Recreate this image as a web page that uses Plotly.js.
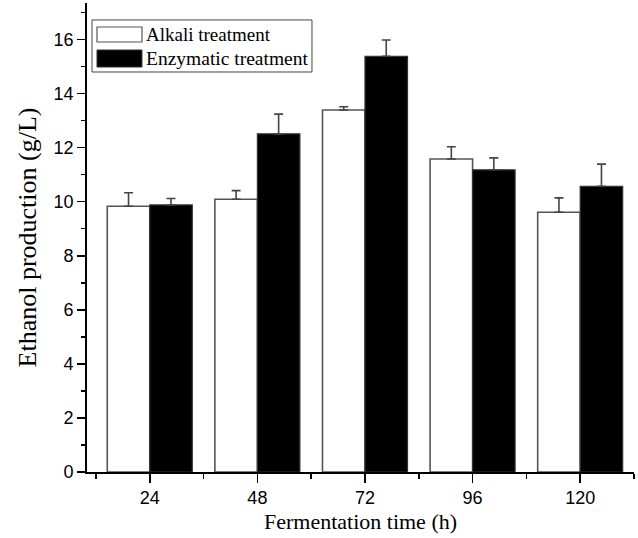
<!DOCTYPE html>
<html>
<head>
<meta charset="utf-8">
<script src="https://cdn.plot.ly/plotly-3.0.1.min.js"></script>
<style>html,body{margin:0;padding:0;background:#fff;}#chart{width:638px;height:538px;}</style>
</head>
<body>
<div id="chart"></div>
<script>
// Fermentation time (h)
var hours = [24, 48, 72, 96, 120];
var tickLabels = ['24', '48', '72', '96', '120'];
var seriesNames = ['Alkali treatment', 'Enzymatic treatment'];
// Ethanol production (g/L)
var alkaliValues = [9.83, 10.09, 13.39, 11.58, 9.61];
var alkaliErrors = [0.50, 0.32, 0.12, 0.45, 0.53];
var enzymaticValues = [9.88, 12.51, 15.38, 11.18, 10.57];
var enzymaticErrors = [0.24, 0.73, 0.60, 0.44, 0.82];
var zeros = [0, 0, 0, 0, 0];

var serif = 'Liberation Serif, Times New Roman, serif';
var sans = 'Liberation Sans, Arial, sans-serif';

var traces = [
  {
    type: 'bar', name: seriesNames[0], x: hours, y: alkaliValues,
    marker: {color: '#ffffff', line: {color: '#555555', width: 1.6}},
    error_y: {type: 'data', symmetric: false, array: alkaliErrors, arrayminus: zeros,
              color: '#444444', thickness: 1.6, width: 4.5},
    showlegend: false
  },
  {
    type: 'bar', name: seriesNames[1], x: hours, y: enzymaticValues,
    marker: {color: '#000000', line: {color: '#333333', width: 1.2}},
    error_y: {type: 'data', symmetric: false, array: enzymaticErrors, arrayminus: zeros,
              color: '#444444', thickness: 1.6, width: 4.5},
    showlegend: false
  }
];

var layout = {
  width: 638, height: 538,
  margin: {l: 87, r: 4, t: 3, b: 66},
  paper_bgcolor: '#ffffff', plot_bgcolor: '#ffffff',
  barmode: 'group', bargap: 0.21, bargroupgap: 0,
  showlegend: false,
  xaxis: {
    range: [10, 132], tickvals: hours, ticktext: tickLabels,
    ticks: 'outside', ticklen: 9, tickwidth: 1.5, tickcolor: '#000',
    minor: {tick0: 12, dtick: 24, ticks: 'outside', ticklen: 5, tickwidth: 1.5, tickcolor: '#000'},
    showline: true, linecolor: '#000', linewidth: 1.8,
    showgrid: false, zeroline: false,
    tickfont: {family: sans, size: 18, color: '#000'},
    title: {text: 'Fermentation time (h)', font: {family: serif, size: 22, color: '#000'}, standoff: 6}
  },
  yaxis: {
    range: [0, 17.35], tick0: 0, dtick: 2,
    ticks: 'outside', ticklen: 8, tickwidth: 1.5, tickcolor: '#000',
    minor: {tick0: 1, dtick: 2, ticks: 'outside', ticklen: 4, tickwidth: 1.5, tickcolor: '#000'},
    showline: true, linecolor: '#000', linewidth: 1.8,
    showgrid: false, zeroline: false,
    tickfont: {family: sans, size: 18, color: '#000'},
    title: {text: 'Ethanol production (g/L)', font: {family: serif, size: 26, color: '#000'}, standoff: 9}
  },
  shapes: [
    {type: 'rect', xref: 'paper', yref: 'paper', x0: 0.00914, x1: 0.4113, y0: 0.8529, y1: 0.9638,
     line: {color: '#444', width: 1}, fillcolor: '#fff'},
    {type: 'rect', xref: 'paper', yref: 'paper', x0: 0.0183, x1: 0.1005, y0: 0.9168, y1: 0.9488,
     line: {color: '#555', width: 1.2}, fillcolor: '#fff'},
    {type: 'rect', xref: 'paper', yref: 'paper', x0: 0.0183, x1: 0.1005, y0: 0.8635, y1: 0.8998,
     line: {color: '#333', width: 1}, fillcolor: '#000'}
  ],
  annotations: [
    {xref: 'paper', yref: 'paper', x: 0.104, y: 0.9318, xanchor: 'left', yanchor: 'middle',
     text: seriesNames[0], showarrow: false, font: {family: serif, size: 19, color: '#000'}},
    {xref: 'paper', yref: 'paper', x: 0.104, y: 0.8827, xanchor: 'left', yanchor: 'middle',
     text: seriesNames[1], showarrow: false, font: {family: serif, size: 19.5, color: '#000'}}
  ]
};

Plotly.newPlot('chart', traces, layout, {displayModeBar: false, staticPlot: true});
</script>
</body>
</html>
